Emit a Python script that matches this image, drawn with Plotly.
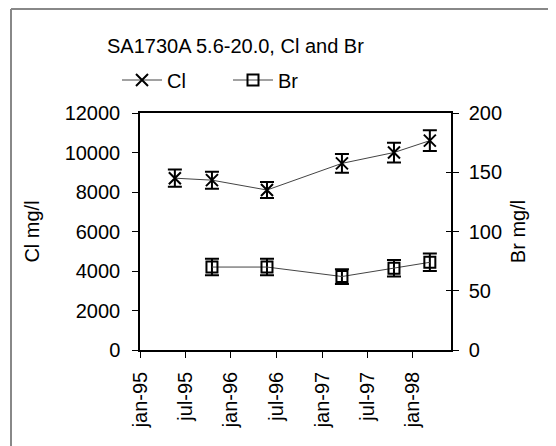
import plotly.graph_objects as go

cl_dates = ["1995-05-21", "1995-10-17", "1996-05-25", "1997-03-22", "1997-10-17", "1998-03-10"]
cl_values = [8700, 8600, 8100, 9450, 10000, 10600]
br_dates = ["1995-10-17", "1996-05-25", "1997-03-22", "1997-10-17", "1998-03-10"]
br_values = [70, 70, 62, 69, 74]
tick_dates = ["1995-01-01", "1995-07-01", "1996-01-01", "1996-07-01", "1997-01-01", "1997-07-01", "1998-01-01"]
tick_labels = ["jan-95", "jul-95", "jan-96", "jul-96", "jan-97", "jul-97", "jan-98"]
cl_ticks = [0, 2000, 4000, 6000, 8000, 10000, 12000]
cl_tick_labels = ["0", "2000", "4000", "6000", "8000", "10000", "12000"]
br_ticks = [0, 50, 100, 150, 200]

FONT = "Liberation Sans, Arial, sans-serif"
FS = 20
W, H = 556, 446
# plot area in figure pixels (page body adds an 8px offset)
L, R, T, B = 132, 443, 105, 342
PW, PH = R - L, B - T

fig = go.Figure()
fig.add_trace(go.Scatter(
    x=cl_dates, y=cl_values, name="Cl", mode="lines+markers", legend="legend",
    line=dict(color="#444444", width=1),
    marker=dict(symbol="x-thin-open", size=12, color="black", line=dict(width=2, color="black")),
    error_y=dict(type="percent", value=5, color="black", thickness=2, width=7),
))
fig.add_trace(go.Scatter(
    x=br_dates, y=br_values, name="Br", mode="lines+markers", yaxis="y2", legend="legend2",
    line=dict(color="#444444", width=1),
    marker=dict(symbol="square-open", size=11, color="black", line=dict(width=2, color="black")),
    error_y=dict(type="percent", value=10, color="black", thickness=2, width=7),
))
fig.add_trace(go.Scatter(x=[None], y=[None], yaxis="y3", showlegend=False))

legend_common = dict(orientation="h", xref="container", yref="container",
                     xanchor="left", yanchor="middle", font=dict(size=FS),
                     itemwidth=40, bgcolor="rgba(0,0,0,0)")

fig.update_layout(
    width=W, height=H,
    margin=dict(l=L, r=W - R, t=T, b=H - B, autoexpand=False),
    paper_bgcolor="white", plot_bgcolor="white",
    font=dict(family=FONT, size=FS, color="black"),
    title=dict(text="SA1730A 5.6-20.0, Cl and Br", xref="container", yref="container",
               x=99/W, xanchor="left", y=1-38/H, yanchor="middle",
               font=dict(size=FS, family=FONT, color="black"), automargin=False),
    legend=dict(x=109/W, y=1-72/H, **legend_common),
    legend2=dict(x=220/W, y=1-72/H, **legend_common),
    xaxis=dict(type="date", range=["1995-01-01", "1998-06-03"],
               tickvals=tick_dates, ticktext=tick_labels, tickangle=-90,
               showline=True, linecolor="black", linewidth=1.5, mirror=True,
               ticks="outside", ticklen=6, tickcolor="black", showgrid=False,
               zeroline=False, tickfont=dict(size=FS), automargin=False,
               ticklabelstandoff=6),
    yaxis=dict(range=[0, 12000], tickvals=cl_ticks, ticktext=cl_tick_labels,
               showline=True, linecolor="black",
               linewidth=1.5, ticks="outside", ticklen=6, tickcolor="black",
               showgrid=False, zeroline=False, automargin=False,
               ticklabelstandoff=8,
               title=dict(text="Cl mg/l", standoff=20, font=dict(size=FS))),
    yaxis2=dict(range=[0, 200], tickvals=br_ticks, overlaying="y", side="right",
                showline=True, linecolor="black", linewidth=1.5, ticks="outside",
                ticklen=6, tickcolor="black", showgrid=False, zeroline=False,
                automargin=False, ticklabelstandoff=6,
                title=dict(text="Br mg/l", standoff=10, font=dict(size=FS))),
    yaxis3=dict(range=[0, 200], tickvals=br_ticks, overlaying="y", side="right",
                anchor="x", showline=False, ticks="inside", ticklen=5,
                tickcolor="black", showticklabels=False, showgrid=False,
                zeroline=False, automargin=False),
    shapes=[
        dict(type="line", xref="paper", yref="paper",
             x0=(3 - L)/PW, x1=(W + 10 - L)/PW, y0=1 + (T - 1)/PH, y1=1 + (T - 1)/PH,
             line=dict(color="#888888", width=2)),
        dict(type="line", xref="paper", yref="paper",
             x0=(3 - L)/PW, x1=(3 - L)/PW, y0=1 + (T - 1)/PH, y1=-(H + 10 - B)/PH,
             line=dict(color="#888888", width=2)),
    ],
)

fig.write_html("out.html")
